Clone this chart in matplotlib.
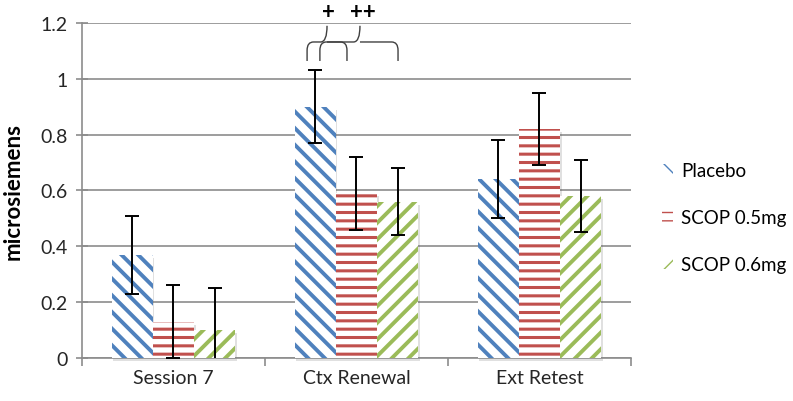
import matplotlib.pyplot as plt
import matplotlib.transforms as mtransforms
import numpy as np
from matplotlib.path import Path
from matplotlib.patches import PathPatch

plt.rcParams['font.family'] = ['Lato', 'DejaVu Sans']

categories = ['Session 7', 'Ctx Renewal', 'Ext Retest']
series = ['Placebo', 'SCOP 0.5mg', 'SCOP 0.6mg']
placebo = [0.37, 0.90, 0.64]
scop05 = [0.13, 0.59, 0.82]
scop06 = [0.10, 0.56, 0.58]
placebo_err = [0.14, 0.13, 0.14]
scop05_err = [0.13, 0.13, 0.13]
scop06_err = [0.15, 0.12, 0.13]

colors = ['#4f81bd', '#c0504d', '#9bbb59']
hatches = ['\\\\', '--', '//']
hatch_lw = [2.8, 2.2, 2.8]

fig = plt.figure(figsize=(7.93, 4.02), dpi=100)
ax = fig.add_axes([0.1034, 0.107, 0.6923, 0.8333])

x = np.arange(len(categories))
w = 0.225
grey = '#8c8c8c'
shadow_tr = mtransforms.offset_copy(ax.transData, fig=fig, x=1.5, y=-3, units='dots')

for i, (vals, errs) in enumerate([(placebo, placebo_err), (scop05, scop05_err), (scop06, scop06_err)]):
    pos = x + (i - 1) * w
    shadows = ax.bar(pos, vals, w, color='#555555', alpha=0.18, linewidth=0, zorder=2)
    for s in shadows:
        s.set_transform(shadow_tr)
        s.set_clip_on(False)
    with plt.rc_context({'hatch.linewidth': hatch_lw[i]}):
        ax.bar(pos, vals, w, color='white', edgecolor=colors[i], hatch=hatches[i],
               linewidth=0, label=series[i], zorder=3)
    ax.errorbar(pos, vals, yerr=errs, fmt='none', ecolor='black', elinewidth=1.4,
                capsize=5, capthick=1.4, zorder=4)

ax.set_xlim(-0.5, 2.5)
ax.set_ylim(0, 1.2)
ax.set_yticks(np.arange(0, 1.21, 0.2))
ax.set_yticklabels(['0', '0.2', '0.4', '0.6', '0.8', '1', '1.2'])
ax.set_xticks(x)
ax.set_xticklabels(categories)
ax.set_xticks([-0.5, 0.5, 1.5, 2.5], minor=True)
ax.tick_params(axis='x', which='major', length=0, pad=8, labelsize=14)
ax.tick_params(axis='x', which='minor', length=6, color=grey, width=1.2)
ax.tick_params(axis='y', direction='inout', length=9, color=grey, width=1.2, pad=6,
               labelsize=14)
ax.tick_params(colors=grey, labelcolor='#262626')
ax.yaxis.grid(True, color=grey, linewidth=1.2, zorder=0)
ax.set_axisbelow(True)
for s in ['top', 'right']:
    ax.spines[s].set_visible(False)
for s in ['left', 'bottom']:
    ax.spines[s].set_color(grey)
    ax.spines[s].set_linewidth(1.2)

ax.set_ylabel('microsiemens', fontsize=16, fontweight='bold')
ax.yaxis.set_label_coords(-0.106, 0.5)


def brace(x0, x1, xm, yb, yh, yt):
    r = 0.035
    verts = [(x0, yb), (x0, yh - 0.03), (x0, yh), (x0 + r, yh),
             (xm - r, yh), (xm, yh), (xm, yt),
             (xm, yh), (xm + r, yh),
             (x1 - r, yh), (x1, yh), (x1, yh - 0.03), (x1, yb)]
    codes = [Path.MOVETO, Path.LINETO, Path.CURVE3, Path.CURVE3,
             Path.LINETO, Path.CURVE3, Path.CURVE3,
             Path.MOVETO, Path.LINETO,
             Path.LINETO, Path.CURVE3, Path.CURVE3, Path.LINETO]
    ax.add_patch(PathPatch(Path(verts, codes), fill=False, edgecolor='#404040',
                           linewidth=1.0, clip_on=False, zorder=5))


brace(0.73, 0.948, 0.839, 1.064, 1.132, 1.19)
brace(0.80, 1.227, 1.019, 1.064, 1.132, 1.19)
ax.text(0.844, 1.24, '+', ha='center', va='center', fontsize=16, fontweight='bold')
ax.text(1.035, 1.24, '++', ha='center', va='center', fontsize=16, fontweight='bold')

ax.legend(loc='center left', bbox_to_anchor=(1.04, 0.42), frameon=False, fontsize=13.5,
          borderpad=0, handlelength=0.55, handleheight=0.55, handletextpad=0.45,
          labelspacing=1.6)

fig.savefig('out.png', dpi=100)
